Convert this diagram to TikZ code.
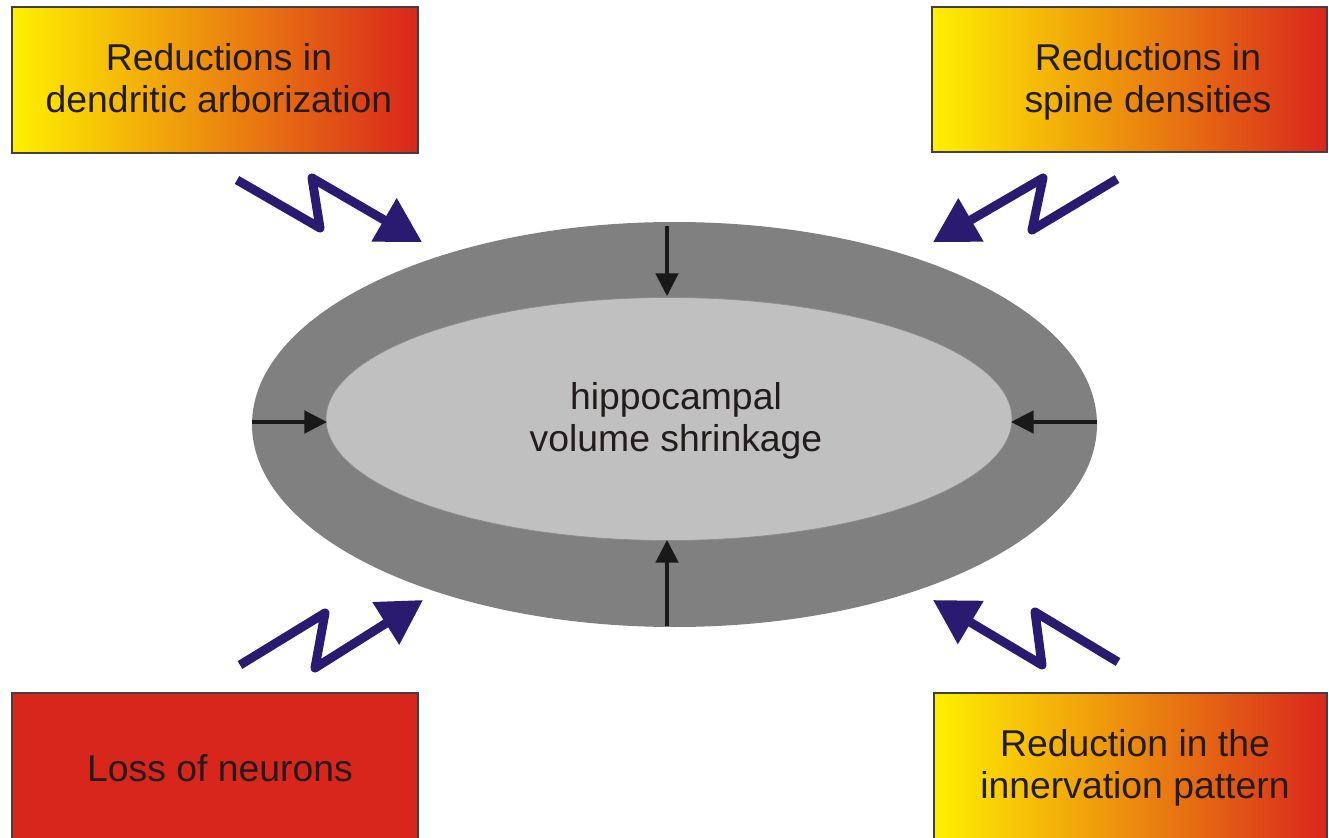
\documentclass[tikz,border=0pt]{standalone}
\usepackage{fontspec}
\setmainfont{Liberation Sans}
\usetikzlibrary{arrows.meta}
\definecolor{boxyellow}{RGB}{255,240,0}
\definecolor{boxorange}{RGB}{234,140,32}
\definecolor{boxred}{RGB}{217,38,28}
\definecolor{navy}{RGB}{43,27,112}
\definecolor{outergray}{RGB}{128,128,128}
\definecolor{innergray}{RGB}{192,192,192}
\definecolor{txt}{RGB}{35,28,28}
\begin{document}
\begin{tikzpicture}[x=0.75pt,y=-0.75pt,
  gradbox/.style={left color=boxyellow,middle color=boxorange,right color=boxred},
  boxline/.style={draw=black!75,line width=1.2pt},
  label/.style={text=txt,align=center,font=\fontsize{28}{31.5}\selectfont,inner sep=0pt},
  bolt/.style={draw=navy,line width=6.75pt,line join=round,-{Triangle[length=33pt,width=36pt]}},
  radial/.style={draw=black!90,line width=2.3pt,-{Triangle[length=17pt,width=17pt]}}]
\useasboundingbox (0,0) rectangle (1329,838);
\clip (0,0) rectangle (1329,838);
% boxes
\shade[gradbox] (12,7) rectangle (418,153);
\draw[boxline] (12,7) rectangle (418,153);
\shade[gradbox] (932,7) rectangle (1327,152);
\draw[boxline] (932,7) rectangle (1327,152);
\fill[boxred] (12,693) rectangle (418,845);
\draw[boxline] (12,693) rectangle (418,845);
\shade[gradbox] (934,693) rectangle (1327,845);
\draw[boxline] (934,693) rectangle (1327,845);
\node[label] (tl) at (219,78) {Reductions in\\dendritic arborization};
\node[label] (tr) at (1148,82) {Reductions in\\spine densities};
\node[label] (bl) at (220,768) {Loss of neurons};
\node[label] (br) at (1135,768) {Reduction in the\\innervation pattern};
% ellipses
\fill[outergray] (674.5,424.5) ellipse [x radius=422.5, y radius=202.5];
\fill[innergray] (669,419) ellipse [x radius=343, y radius=121.5];
\draw[black!45,line width=0.5pt] (669,419) ellipse [x radius=343, y radius=121.5];
\node[label] (center) at (676,421) {hippocampal\\volume shrinkage};
% radial arrows
\coordinate (rt0) at (667,226); \coordinate (rt1) at (667,296);
\coordinate (rb0) at (667,626); \coordinate (rb1) at (667,540);
\coordinate (rl0) at (252,422); \coordinate (rl1) at (327,422);
\coordinate (rr0) at (1097,422); \coordinate (rr1) at (1011,422);
\draw[radial] (rt0) -- (rt1);
\draw[radial] (rb0) -- (rb1);
\draw[radial] (rl0) -- (rl1);
\draw[radial] (rr0) -- (rr1);
% lightning arrows
\coordinate (a0) at (237,180); \coordinate (a1) at (320,228); \coordinate (a2) at (312,178); \coordinate (a3) at (422,242);
\coordinate (b0) at (1117,179); \coordinate (b1) at (1032,230); \coordinate (b2) at (1043,178); \coordinate (b3) at (933,242);
\coordinate (c0) at (240,665); \coordinate (c1) at (325,613); \coordinate (c2) at (315,668); \coordinate (c3) at (423,600);
\coordinate (d0) at (1118,662); \coordinate (d1) at (1035,612); \coordinate (d2) at (1042,665); \coordinate (d3) at (933,600);
\draw[bolt] (a0) -- (a1) -- (a2) -- (a3);
\draw[bolt] (b0) -- (b1) -- (b2) -- (b3);
\draw[bolt] (c0) -- (c1) -- (c2) -- (c3);
\draw[bolt] (d0) -- (d1) -- (d2) -- (d3);
\end{tikzpicture}
\end{document}
